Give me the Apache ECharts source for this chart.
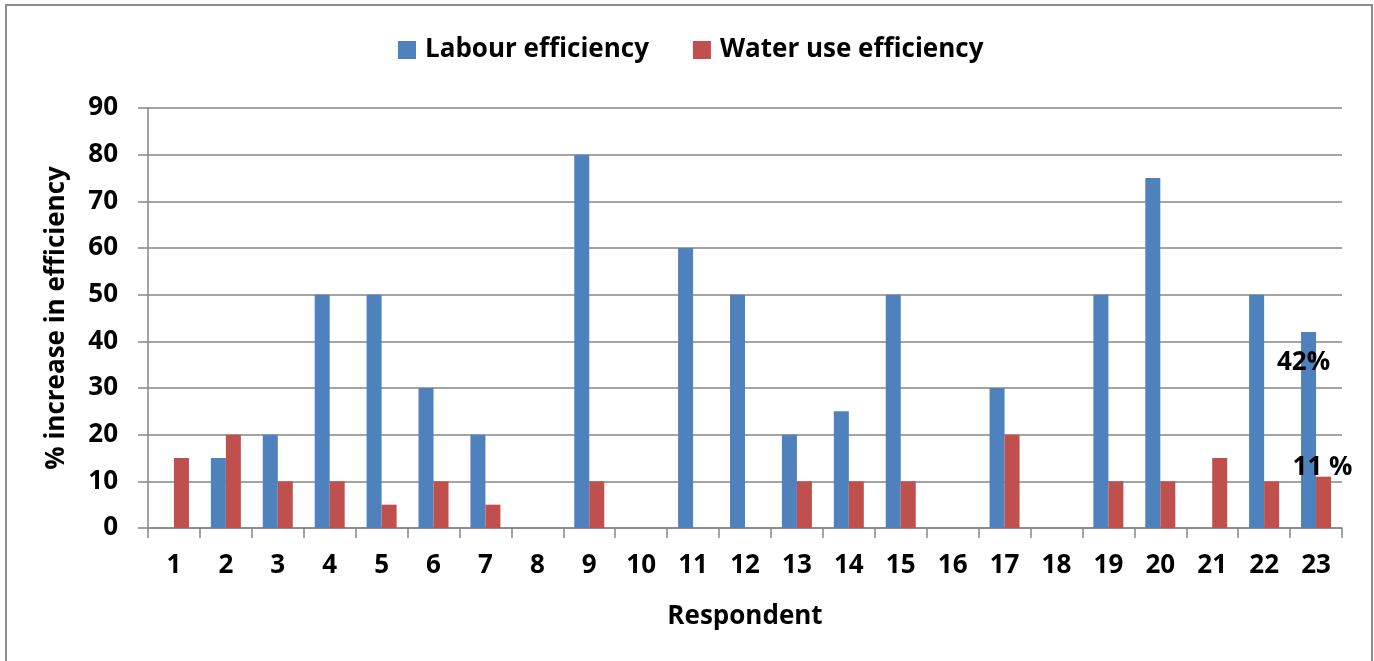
<!DOCTYPE html>
<html>
<head>
<meta charset="utf-8">
<script src="https://cdn.jsdelivr.net/npm/echarts@6/dist/echarts.min.js"></script>
<style>
  html, body { margin: 0; padding: 0; background: #fff; }
  #chart { width: 1374px; height: 661px; }
</style>
</head>
<body>
<div id="chart"></div>
<script>
const respondents = ['1', '2', '3', '4', '5', '6', '7', '8', '9', '10', '11', '12',
    '13', '14', '15', '16', '17', '18', '19', '20', '21', '22', '23']
const labourEff = [0, 15, 20, 50, 50, 30, 20, 0, 80, 0, 60, 50, 20, 25, 50, 0, 30, 0, 50, 75, 0, 50, 42]
const waterEff = [15, 20, 10, 10, 5, 10, 5, 0, 10, 0, 0, 0, 10, 10, 10, 0, 20, 0, 10, 10, 15, 10, 11]
// annotations written beside the last respondent
const notes = [
    { text: '42%', cat: '23', value: 35.4 },
    { text: '11 %', cat: '23', value: 13 },
]

const font = '"Open Sans", sans-serif'
const gridColor = '#868686'
const fs = 26

const chart = echarts.init(document.getElementById('chart'))

chart.setOption({
    animation: false,
    textStyle: { fontFamily: font },
    graphic: [
        {
            type: 'rect',
            shape: { x: 6, y: 5, width: 1366, height: 700 },
            style: { fill: 'none', stroke: '#8c8c8c', lineWidth: 2 },
            silent: true,
        },
    ],
    legend: {
        top: 32,
        left: 393,
        itemWidth: 18,
        itemHeight: 18,
        itemGap: 44,
        icon: 'rect',
        textStyle: { fontSize: fs, fontWeight: 700, color: '#000', fontFamily: font, padding: [0, 0, 0, 4] },
        data: ['Labour efficiency', 'Water use efficiency'],
    },
    grid: {
        left: 148,
        right: 32,
        top: 108,
        bottom: 133,
    },
    xAxis: {
        type: 'category',
        data: respondents,
        name: 'Respondent',
        nameLocation: 'middle',
        nameGap: 76,
        nameTextStyle: { fontSize: fs, fontWeight: 700, color: '#000', fontFamily: font },
        axisLine: { lineStyle: { color: gridColor, width: 1.5 } },
        axisTick: { show: true, length: 10, lineStyle: { color: gridColor, width: 1.5 } },
        axisLabel: { fontSize: fs, fontWeight: 700, color: '#000', margin: 25, interval: 0, fontFamily: font },
    },
    yAxis: {
        type: 'value',
        min: 0,
        max: 90,
        interval: 10,
        name: '% increase in efficiency',
        nameLocation: 'middle',
        nameGap: 78,
        nameTextStyle: { fontSize: fs, fontWeight: 700, color: '#000', fontFamily: font },
        axisLine: { show: true, lineStyle: { color: gridColor, width: 1.5 } },
        axisTick: { show: true, length: 10, lineStyle: { color: gridColor, width: 1.5 } },
        axisLabel: { fontSize: fs, fontWeight: 700, color: '#000', margin: 30, fontFamily: font },
        splitLine: { lineStyle: { color: gridColor, width: 1.5 } },
    },
    series: [
        {
            name: 'Labour efficiency',
            type: 'bar',
            data: labourEff,
            barWidth: 15,
            barGap: '0%',
            itemStyle: { color: '#4F81BD' },
            markPoint: {
                symbol: 'rect',
                symbolSize: 0,
                silent: true,
                label: {
                    show: true,
                    formatter: p => p.name,
                    fontSize: fs,
                    fontWeight: 700,
                    color: '#000',
                    fontFamily: font,
                },
                data: notes.map((n, i) => ({
                    name: n.text,
                    coord: [n.cat, n.value],
                    label: { offset: [i === 0 ? -5 : 14, 0] },
                })),
            },
        },
        {
            name: 'Water use efficiency',
            type: 'bar',
            data: waterEff,
            barWidth: 15,
            itemStyle: { color: '#C0504D' },
        },
    ],
})
</script>
</body>
</html>
